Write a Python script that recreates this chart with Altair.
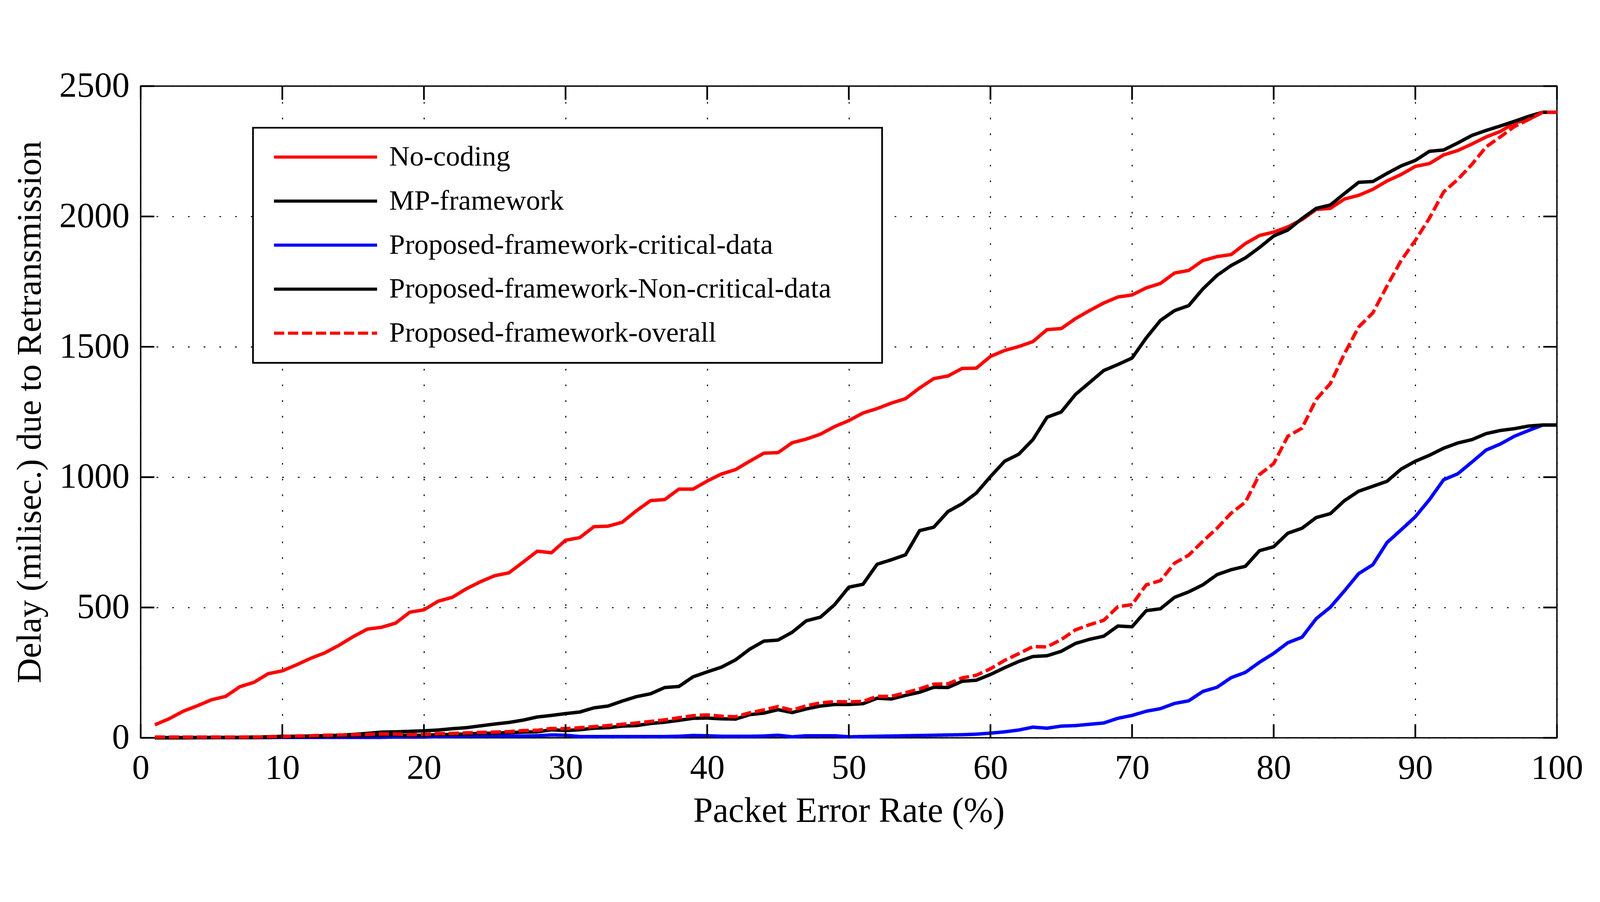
import altair as alt
import pandas as pd

# ---------------- data ----------------
per_values = list(range(1, 101))

no_coding = [50, 73, 102, 123, 146, 159, 196, 213, 246, 257,
             280, 305, 326, 355, 388, 417, 424, 440, 482, 491,
             524, 539, 572, 599, 622, 633, 674, 716, 710, 758,
             768, 810, 812, 827, 871, 910, 914, 954, 954, 985,
             1012, 1029, 1061, 1092, 1094, 1132, 1146, 1165, 1194, 1217,
             1246, 1263, 1284, 1301, 1342, 1378, 1388, 1417, 1418, 1463,
             1486, 1501, 1520, 1566, 1570, 1608, 1639, 1668, 1691, 1699,
             1726, 1743, 1783, 1793, 1831, 1846, 1854, 1896, 1927, 1940,
             1960, 1988, 2027, 2031, 2067, 2081, 2104, 2136, 2161, 2192,
             2203, 2236, 2253, 2278, 2305, 2326, 2359, 2372, 2400, 2400]

mp_framework = [0, 0, 1, 1, 1, 2, 2, 3, 4, 6,
                6, 7, 8, 10, 13, 17, 22, 23, 25, 27,
                30, 35, 39, 46, 53, 59, 68, 80, 86, 93,
                99, 115, 122, 141, 158, 169, 193, 197, 234, 253,
                271, 299, 340, 371, 375, 405, 449, 463, 511, 578,
                589, 666, 683, 702, 795, 808, 868, 898, 939, 1002,
                1061, 1088, 1144, 1230, 1250, 1317, 1363, 1409, 1432, 1457,
                1534, 1601, 1639, 1658, 1722, 1774, 1812, 1841, 1881, 1925,
                1948, 1992, 2031, 2044, 2088, 2131, 2134, 2165, 2194, 2215,
                2250, 2255, 2282, 2311, 2330, 2347, 2365, 2384, 2400, 2400]

critical_data = [1, 1, 1, 1, 1, 1, 1, 1, 1, 2,
                 2, 2, 2, 2, 2, 2, 2, 3, 3, 3,
                 5, 6, 7, 7, 7, 7, 7, 8, 11, 10,
                 5, 5, 5, 5, 5, 5, 5, 6, 9, 8,
                 6, 6, 6, 7, 10, 4, 8, 8, 8, 4,
                 5, 6, 7, 8, 9, 10, 11, 12, 14, 18,
                 23, 30, 41, 37, 45, 47, 52, 57, 75, 86,
                 102, 112, 132, 142, 178, 194, 231, 251, 290, 324,
                 365, 386, 457, 501, 564, 630, 664, 749, 798, 848,
                 914, 990, 1013, 1058, 1104, 1127, 1157, 1179, 1200, 1200]

non_critical_data = [0, 0, 0, 1, 1, 1, 1, 1, 2, 3,
                     4, 5, 6, 7, 8, 9, 10, 11, 9, 10,
                     12, 13, 15, 17, 18, 20, 22, 23, 31, 28,
                     31, 37, 39, 45, 47, 55, 60, 67, 75, 76,
                     73, 72, 89, 95, 108, 97, 111, 122, 128, 128,
                     131, 152, 149, 163, 175, 194, 193, 217, 221, 243,
                     269, 293, 312, 315, 332, 362, 378, 390, 429, 426,
                     488, 495, 539, 560, 587, 626, 645, 658, 718, 733,
                     785, 804, 845, 860, 910, 946, 965, 984, 1031, 1061,
                     1084, 1111, 1131, 1144, 1167, 1179, 1186, 1196, 1200, 1200]

overall = [3, 3, 3, 3, 3, 3, 3, 3, 4, 5,
           7, 8, 10, 11, 12, 13, 15, 15, 12, 13,
           16, 17, 19, 21, 22, 24, 28, 29, 36, 35,
           39, 43, 47, 52, 57, 63, 69, 77, 85, 88,
           83, 81, 96, 107, 120, 106, 123, 134, 139, 138,
           140, 159, 159, 173, 188, 206, 207, 230, 240, 265,
           297, 323, 350, 349, 377, 414, 434, 451, 503, 511,
           587, 603, 670, 701, 754, 804, 862, 904, 1010, 1052,
           1157, 1188, 1298, 1359, 1474, 1576, 1630, 1733, 1831, 1908,
           1994, 2094, 2142, 2200, 2267, 2305, 2345, 2372, 2400, 2400]

series_names = ["No-coding", "MP-framework", "Proposed-framework-critical-data",
                "Proposed-framework-Non-critical-data", "Proposed-framework-overall"]
series_colors = ["#ff0000", "#000000", "#0000ff", "#000000", "#ff0000"]
series_dashes = [[1, 0], [1, 0], [1, 0], [1, 0], [30, 11]]

x_ticks = [0, 10, 20, 30, 40, 50, 60, 70, 80, 90, 100]
y_ticks = [0, 500, 1000, 1500, 2000, 2500]

rows = []
for name, vals in zip(series_names,
                      [no_coding, mp_framework, critical_data, non_critical_data, overall]):
    for xv, yv in zip(per_values, vals):
        rows.append({"per": xv, "delay": yv, "series": name})
df = pd.DataFrame(rows)
xt_df = pd.DataFrame({"per": x_ticks})
yt_df = pd.DataFrame({"delay": y_ticks})

FONT = "Liberation Serif"
W, H = 4149, 1910
TICK_LEN = 40

xscale = alt.Scale(domain=[0, 100], nice=False, zero=False)
yscale = alt.Scale(domain=[0, 2500], nice=False)

x_axis = alt.Axis(values=x_ticks, title="Packet Error Rate (%)",
                  labelFont=FONT, labelFontSize=102, titleFont=FONT,
                  titleFontSize=103, titleFontWeight="normal",
                  labelPadding=38, titlePadding=26, ticks=False, tickSize=0,
                  domain=False, grid=True, labelFlush=False, labelLimit=0,
                  labelOverlap=False, format="d",
                  labelColor="black", titleColor="black")
y_axis = alt.Axis(values=y_ticks, title="Delay (milisec.) due to Retransmission",
                  labelFont=FONT, labelFontSize=103, titleFont=FONT,
                  titleFontSize=102, titleFontWeight="normal",
                  labelPadding=33, titlePadding=73, ticks=False, tickSize=0,
                  domain=False, grid=True, labelFlush=False, labelLimit=0,
                  labelOverlap=False, format="d", titleLimit=0,
                  labelColor="black", titleColor="black")

legend_def = alt.Legend(
    title=None,
    orient="none",
    legendX=329,
    legendY=122,
    symbolType="stroke",
    symbolSize=91204,
    symbolStrokeWidth=9,
    symbolOffset=12,
    labelOffset=31,
    labelFont=FONT,
    labelFontSize=83,
    labelColor="black",
    labelLimit=0,
    labelExpr="datum.label + '\u00a0\u00a0\u00a0\u00a0\u00a0\u200b'",
    clipHeight=82,
    rowPadding=46,
    padding=45,
    strokeColor="black",
    fillColor="white",
)

lines = alt.Chart(df).mark_line(strokeWidth=10, strokeJoin="round").encode(
    x=alt.X("per:Q", scale=xscale, axis=x_axis),
    y=alt.Y("delay:Q", scale=yscale, axis=y_axis),
    color=alt.Color("series:N", scale=alt.Scale(domain=series_names, range=series_colors),
                    legend=legend_def),
    strokeDash=alt.StrokeDash("series:N",
                              scale=alt.Scale(domain=series_names, range=series_dashes),
                              legend=legend_def),
)

# inward-pointing tick marks on all four sides (MATLAB style)
tick_style = dict(color="black", strokeWidth=5)
xt_bottom = alt.Chart(xt_df).mark_rule(**tick_style).encode(
    x=alt.X("per:Q", scale=xscale, axis=x_axis),
    y=alt.value(H), y2=alt.value(H - TICK_LEN))
xt_top = alt.Chart(xt_df).mark_rule(**tick_style).encode(
    x=alt.X("per:Q", scale=xscale, axis=x_axis),
    y=alt.value(0), y2=alt.value(TICK_LEN))
yt_left = alt.Chart(yt_df).mark_rule(**tick_style).encode(
    y=alt.Y("delay:Q", scale=yscale, axis=y_axis),
    x=alt.value(0), x2=alt.value(TICK_LEN))
yt_right = alt.Chart(yt_df).mark_rule(**tick_style).encode(
    y=alt.Y("delay:Q", scale=yscale, axis=y_axis),
    x=alt.value(W), x2=alt.value(W - TICK_LEN))

chart = alt.layer(lines, xt_bottom, xt_top, yt_left, yt_right).properties(
    width=W,
    height=H,
    padding={"left": 27, "top": 27, "right": 40, "bottom": 34},
    background="white",
).configure_view(
    stroke="black", strokeWidth=4
).configure_axis(
    gridColor="black", gridDash=[5, 41], gridWidth=3, gridOpacity=1
).configure_legend(
    strokeWidth=5
)

chart.save("out.html", embed_options={"renderer": "svg", "actions": False})
